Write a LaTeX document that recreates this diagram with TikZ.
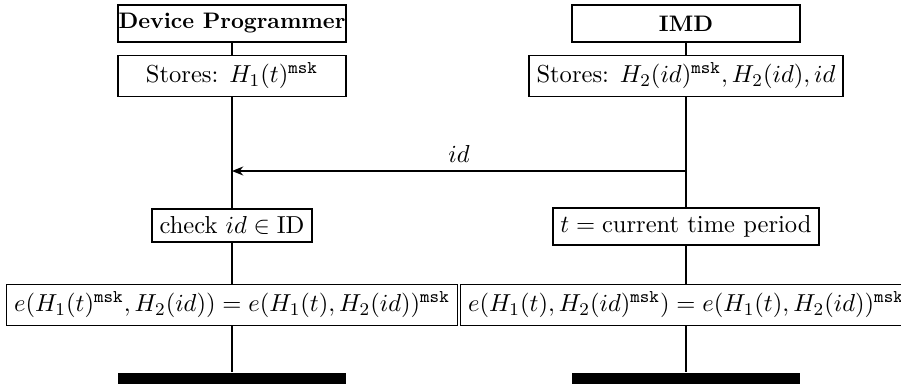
\documentclass[tikz,border=0pt]{standalone}
\usepackage{tikz}
\usepackage{amsmath}
\usetikzlibrary{positioning,arrows.meta,calc}

\begin{document}
\begin{tikzpicture}[x=0.446pt, y=-0.446pt, line width=0.75pt,
    every node/.style={font=\fontsize{10.95}{13.6}\selectfont},
    actor/.style={draw, minimum width=101.7pt, minimum height=16.5pt, inner xsep=0pt,
      font=\fontsize{10}{12}\selectfont\bfseries},
    stepbox/.style={draw},
    endbar/.style={fill=black, minimum width=101.7pt, minimum height=6pt, inner sep=0pt}]
  \useasboundingbox (0,0) rectangle (901,383);
  % heads of the two lifelines
  \node[actor] (dp) at (232,23.5) {Device Programmer};
  \node[actor] (imd) at (686,23.5) {IMD};
  % what each side stores
  \node[stepbox, minimum width=101.7pt] (dpstore) at (232,76) {Stores: $H_1(t)^{\mathtt{msk}}$};
  \node[stepbox] (imdstore) at (686,76) {Stores: $H_2(id)^{\mathtt{msk}}, H_2(id), id$};
  \coordinate (imdsend) at (686,171);
  \coordinate (dprecv) at (232,171);
  \node[stepbox] (check) at (232,225.5) {check $id \in \mathrm{ID}$};
  \node[stepbox] (tnow) at (686,226.5) {$t = \text{current time period}$};
  \node[stepbox] (dpeq) at (232,305) {$e(H_1(t)^{\mathtt{msk}}, H_2(id)) = e(H_1(t), H_2(id))^{\mathtt{msk}}$};
  \node[stepbox] (imdeq) at (686,305) {$e(H_1(t), H_2(id)^{\mathtt{msk}}) = e(H_1(t), H_2(id))^{\mathtt{msk}}$};
  \node[endbar] (dpend) at (232,379.5) {};
  \node[endbar] (imdend) at (686,379.5) {};
  % lifelines
  \foreach \a/\b in {dp/dpstore, dpstore/check, check/dpeq, dpeq/dpend,
                     imd/imdstore, imdstore/tnow, tnow/imdeq, imdeq/imdend}
    \draw (\a) -- (\b);
  % message
  \draw[-{Stealth[length=5pt, width=4pt, inset=1.6pt]}] (imdsend) -- node[above] {$id$} (dprecv);
\end{tikzpicture}
\end{document}
